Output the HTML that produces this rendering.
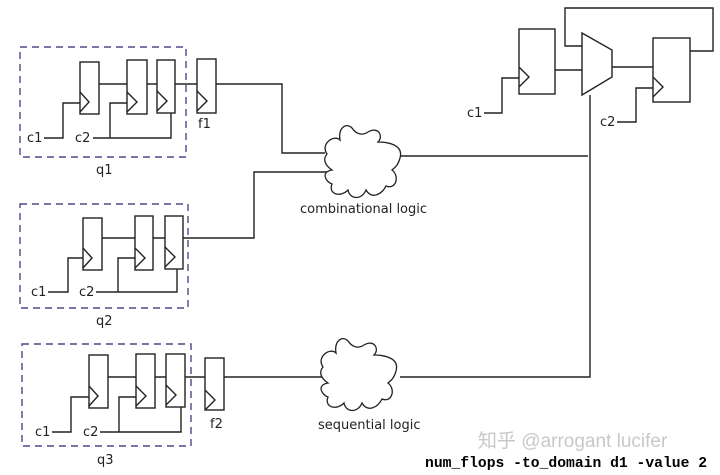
<!DOCTYPE html>
<html><head><meta charset="utf-8"><style>
body{margin:0;background:#fff;width:720px;height:475px;overflow:hidden}
svg{display:block}
text{font-family:"DejaVu Sans","Liberation Sans",sans-serif;font-size:13px;fill:#222}
</style></head><body>
<svg width="720" height="475" viewBox="0 0 720 475">
<defs>
<g id="cloud"><path d="M5,30 C-2,20 12,10 18,16 C16,4 24,-2 30,4 C34,10 40,12 46,8 C56,2 62,12 56,18 C64,18 82,20 78,34 C76,42 72,44 70,46 C78,52 74,66 64,62 C60,70 50,76 44,66 C40,76 28,76 26,66 C18,74 6,70 10,60 C4,58 -2,48 10,46 C4,42 0,36 5,30 Z" fill="#fff" stroke="#222" stroke-width="1.3"/></g>
</defs>
<g fill="none" stroke="#222" stroke-width="1.4">
<!-- group boxes -->
<rect x="20" y="47" width="166" height="110" stroke="#4a4a8a" stroke-dasharray="7,5"/>
<rect x="20" y="204" width="168" height="104" stroke="#4a4a8a" stroke-dasharray="7,5"/>
<rect x="22" y="344" width="169" height="102" stroke="#4a4a8a" stroke-dasharray="7,5"/>
<!-- q1 -->
<rect x="80" y="62" width="19" height="52"/><path d="M80,92 L89,102 L80,112"/>
<rect x="127" y="60" width="20" height="54"/><path d="M127,92 L137,102 L127,112"/>
<rect x="157" y="60" width="18" height="53"/><path d="M157,91 L167,101 L157,111"/>
<rect x="197" y="59" width="19" height="54"/><path d="M197,91 L207,101 L197,111"/>
<path d="M99,84 H127 M147,84 H157 M175,84 H197 M216,84 H282 V153 H325"/>
<path d="M44,138 H63 V103 H80 M93,138 H171 V113 M110,138 V103 H127"/>
<!-- q2 -->
<rect x="83" y="218" width="19" height="52"/><path d="M83,248 L92,258 L83,268"/>
<rect x="135" y="216" width="18" height="54"/><path d="M135,248 L145,258 L135,268"/>
<rect x="165" y="216" width="18" height="53"/><path d="M165,247 L175,257 L165,267"/>
<path d="M102,238 H135 M153,238 H165 M183,238 H254 V172 H330"/>
<path d="M48,292 H68 V258 H83 M96,292 H177 V269 M118,292 V258 H135"/>
<!-- q3 -->
<rect x="89" y="355" width="19" height="53"/><path d="M89,386 L98,396 L89,406"/>
<rect x="136" y="354" width="19" height="54"/><path d="M136,386 L146,396 L136,406"/>
<rect x="166" y="354" width="19" height="53"/><path d="M166,385 L176,395 L166,405"/>
<rect x="205" y="358" width="19" height="52"/><path d="M205,390 L215,400 L205,410"/>
<path d="M108,377 H136 M155,377 H166 M185,377 H205 M224,377 H325"/>
<path d="M52,432 H71 V397 H89 M100,432 H181 V407 M119,432 V397 H136"/>
<!-- right -->
<path d="M400,156 H588 M400,377 H590 V95"/>
<rect x="519" y="29" width="36" height="65"/><path d="M519,67 L529,77 L519,87"/>
<path d="M582,33 L612,50 L612,77 L582,95 Z"/>
<rect x="653" y="38" width="37" height="64"/><path d="M653,77 L663,87 L653,97"/>
<path d="M555,70 H582 M612,67 H653 M690,51 H713 V8 H565 V46 H582"/>
<path d="M484,113 H502 V78 H519 M617,122 H636 V88 H653"/>
</g>
<use href="#cloud" transform="translate(322,124)"/>
<use href="#cloud" transform="translate(318,337)"/>
<text x="27" y="142">c1</text><text x="75" y="142">c2</text>
<text x="198" y="128">f1</text><text x="96" y="174">q1</text>
<text x="31" y="296">c1</text><text x="79" y="296">c2</text><text x="96" y="325">q2</text>
<text x="35" y="436">c1</text><text x="83" y="436">c2</text>
<text x="210" y="428">f2</text><text x="97" y="464">q3</text>
<text x="300" y="213">combinational logic</text>
<text x="318" y="429">sequential logic</text>
<text x="467" y="117">c1</text><text x="600" y="126">c2</text>
<text x="478" y="447" style="font-size:19px;fill:#c8c8c8;font-family:'Liberation Sans','Noto Sans CJK SC',sans-serif">知乎 @arrogant lucifer</text>
<text x="425" y="467" style="font-family:'Liberation Mono',monospace;font-weight:bold;font-size:14.7px;fill:#000">num_flops -to_domain d1 -value 2</text>
</svg>
</body></html>
